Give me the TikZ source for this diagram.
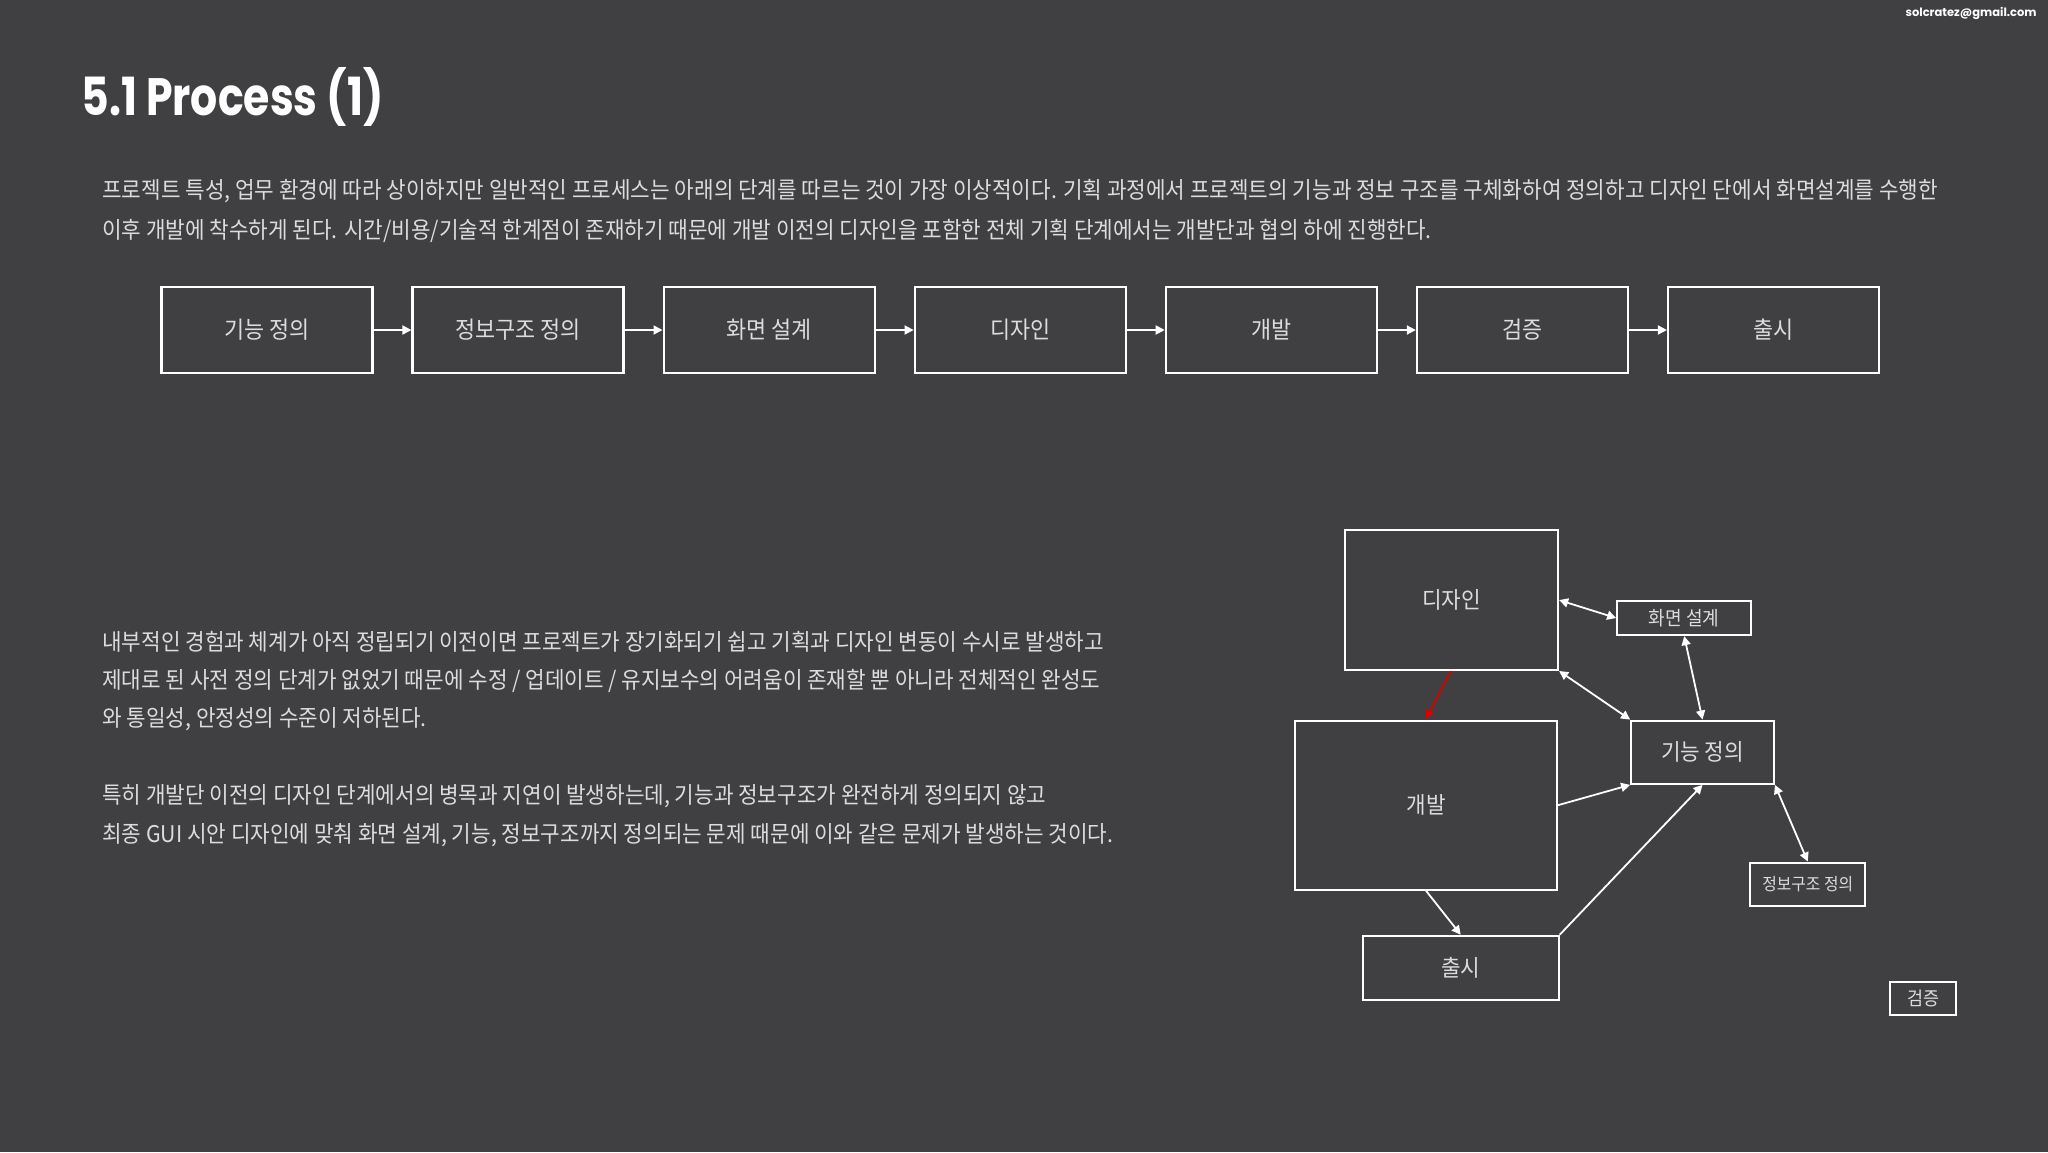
\documentclass[tikz,border=0pt]{standalone}
\usepackage{fontspec}
\setmainfont{Noto Sans CJK KR}
\newfontfamily\kr{Noto Sans CJK KR}[FakeStretch=0.925]
\newfontfamily\titlef{Poppins}[FakeStretch=0.81]
\newfontfamily\mailf{Poppins}
\usetikzlibrary{arrows.meta}
\definecolor{bg}{HTML}{404042}
\definecolor{txt}{HTML}{DCDCDC}
\tikzset{
  para/.style={anchor=base west, inner sep=0pt, text=txt, font=\kr\fontsize{11.5}{13}\selectfont},
  stepbox/.style={draw=white, line width=1.2pt, minimum width=105.5pt, minimum height=43pt, inner sep=0pt, text=txt, font=\kr\fontsize{11.8}{13}\selectfont},
  dbox/.style={draw=white, line width=1pt, inner sep=0pt, text=txt, font=\kr\fontsize{11.5}{13}\selectfont},
  tip/.style={-{Triangle[length=4.5pt,width=4.5pt]}},
  dtip/.style={{Triangle[length=4.5pt,width=4.5pt]}-{Triangle[length=4.5pt,width=4.5pt]}},
  conn/.style={draw=white, line width=0.9pt},
}
\begin{document}
\begin{tikzpicture}[x=0.5pt,y=-0.5pt]
\useasboundingbox (0,0) rectangle (2048,1152);
\fill[bg] (0,0) rectangle (2048,1152);

\node[anchor=base west, inner sep=0pt, text=white, font=\titlef\bfseries\fontsize{26.3}{30}\selectfont] (title) at (81,115) {5.1 Process (1)};
\node[anchor=base east, inner sep=0pt, text=white, font=\mailf\bfseries\fontsize{5.75}{7}\selectfont] (mail) at (2037,16) {solcratez@gmail.com};

\node[para] (p1) at (102,198.5) {프로젝트 특성, 업무 환경에 따라 상이하지만 일반적인 프로세스는 아래의 단계를 따르는 것이 가장 이상적이다. 기획 과정에서 프로젝트의 기능과 정보 구조를 구체화하여 정의하고 디자인 단에서 화면설계를 수행한};
\node[para] (p2) at (102,238.5) {이후 개발에 착수하게 된다. 시간/비용/기술적 한계점이 존재하기 때문에 개발 이전의 디자인을 포함한 전체 기획 단계에서는 개발단과 협의 하에 진행한다.};

\node[stepbox] (t1) at (267,330) {기능 정의};
\node[stepbox] (t2) at (518.1,330) {정보구조 정의};
\node[stepbox] (t3) at (769.2,330) {화면 설계};
\node[stepbox] (t4) at (1020.3,330) {디자인};
\node[stepbox] (t5) at (1271.4,330) {개발};
\node[stepbox] (t6) at (1522.5,330) {검증};
\node[stepbox] (t7) at (1773.6,330) {출시};
\foreach \a/\b in {t1/t2,t2/t3,t3/t4,t4/t5,t5/t6,t6/t7}
  \draw[conn,tip] (\a.east) -- (\b.west);

\node[para] (q1) at (102,650.5) {내부적인 경험과 체계가 아직 정립되기 이전이면 프로젝트가 장기화되기 쉽고 기획과 디자인 변동이 수시로 발생하고};
\node[para] (q2) at (102,688.5) {제대로 된 사전 정의 단계가 없었기 때문에 수정 / 업데이트 / 유지보수의 어려움이 존재할 뿐 아니라 전체적인 완성도};
\node[para] (q3) at (102,726.5) {와 통일성, 안정성의 수준이 저하된다.};
\node[para] (q4) at (102,803.5) {특히 개발단 이전의 디자인 단계에서의 병목과 지연이 발생하는데, 기능과 정보구조가 완전하게 정의되지 않고};
\node[para] (q5) at (102,842.5) {최종 GUI 시안 디자인에 맞춰 화면 설계, 기능, 정보구조까지 정의되는 문제 때문에 이와 같은 문제가 발생하는 것이다.};

\node[dbox, minimum width=106.45pt, minimum height=69.9pt] (d) at (1451.65,600.1) {디자인};
\node[dbox, font=\kr\fontsize{9.76}{11}\selectfont, minimum width=67pt, minimum height=17.15pt] (s) at (1684.2,618) {화면 설계};
\node[dbox, minimum width=71.4pt, minimum height=31.65pt] (f) at (1702.5,752.2) {기능 정의};
\node[dbox, minimum width=130.8pt, minimum height=84.65pt] (v) at (1426.1,805.2) {개발};
\node[dbox, minimum width=98pt, minimum height=32pt] (r) at (1460.7,967.7) {출시};
\node[dbox, font=\kr\fontsize{8.54}{10}\selectfont, minimum width=57.35pt, minimum height=21.5pt] (i) at (1807.7,884) {정보구조 정의};
\node[dbox, font=\kr\fontsize{9.4}{11}\selectfont, minimum width=33pt, minimum height=16.65pt] (g) at (1923.4,998.2) {검증};

\draw[conn,dtip] (d.east) -- (s.west);
\draw[conn,dtip] (s.south) -- (f.north);
\draw[conn,dtip] (d.south east) -- (f.north west);
\draw[draw=red!85!black, line width=0.9pt, tip] (d.south) -- (v.north);
\draw[conn,tip] (v.east) -- (f.south west);
\draw[conn,tip] (v.south) -- (r.north);
\draw[conn,tip] (r.north east) -- (f.south);
\draw[conn,dtip] (f.south east) -- (i.north);
\end{tikzpicture}
\end{document}
